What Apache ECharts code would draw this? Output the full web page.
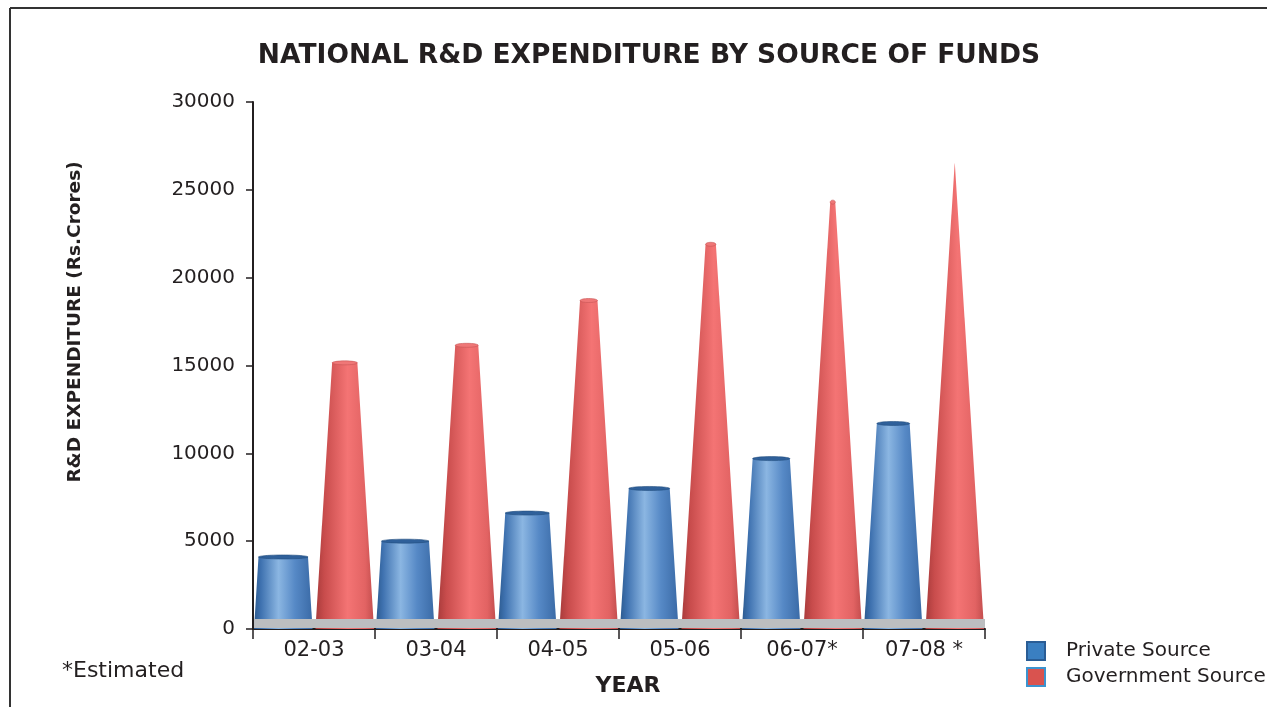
<!DOCTYPE html>
<html><head><meta charset="utf-8">
<script src="https://cdn.jsdelivr.net/npm/echarts@6/dist/echarts.min.js"></script>
<style>html,body{margin:0;padding:0;background:#fff}#c{width:1267px;height:707px}</style>
</head><body><div id="c"></div>
<script>
var categories = ['02-03', '03-04', '04-05', '05-06', '06-07*', '07-08 *'];
var privateSource = [4100, 5000, 6600, 8000, 9700, 11700];
var governmentSource = [15150, 16150, 18700, 21900, 24300, 26500];
var yTicks = [0, 5000, 10000, 15000, 20000, 25000, 30000];

var FONT = 'DejaVu Sans';
var APEX = 26600;

function makeRender(side, grad, topFill, topStroke) {
  return function (params, api) {
    var cat = api.value(0), val = api.value(1);
    var bw = api.size([1, 0])[0];
    var base = api.coord([cat, 0]);
    var top = api.coord([cat, val]);
    var apexY = api.coord([cat, APEX])[1];
    var cx = base[0] + side * bw * 0.252;
    var w0 = bw * 0.48;
    var frac = Math.max(0, (top[1] - apexY) / (base[1] - apexY));
    var wt = w0 * frac;
    var by = base[1], ty = top[1];
    var children = [{
      type: 'polygon',
      shape: { points: [[cx - w0 / 2, by], [cx - wt / 2, ty], [cx + wt / 2, ty], [cx + w0 / 2, by]] },
      style: { fill: { type: 'linear', x: 0, y: 0, x2: 1, y2: 0, colorStops: grad } }
    }];
    if (wt > 4) {
      children.push({
        type: 'ellipse',
        shape: { cx: cx, cy: ty, rx: wt / 2, ry: 2 },
        style: { fill: topFill, stroke: topStroke, lineWidth: 0.6 }
      });
    }
    return { type: 'group', children: children };
  };
}

var blueGrad = [
  { offset: 0, color: '#2c5a8f' }, { offset: 0.12, color: '#3f72b0' },
  { offset: 0.42, color: '#8bb6e2' }, { offset: 0.7, color: '#5689c6' },
  { offset: 1, color: '#3a6aa6' }
];
var redGrad = [
  { offset: 0, color: '#a83b3b' }, { offset: 0.15, color: '#c84c4c' },
  { offset: 0.55, color: '#f47474' }, { offset: 0.85, color: '#e26363' },
  { offset: 1, color: '#c24d4d' }
];

var chart = echarts.init(document.getElementById('c'), null, { renderer: 'canvas' });
chart.setOption({
  backgroundColor: '#fff',
  animation: false,
  title: {
    text: 'NATIONAL R&D EXPENDITURE BY SOURCE OF FUNDS',
    left: 644, top: 38, textAlign: 'center',
    textStyle: { fontFamily: FONT, fontWeight: 'bold', fontSize: 26.5, color: '#231f20' }
  },
  legend: {
    orient: 'vertical', left: 1021, top: 636,
    itemWidth: 18, itemHeight: 18, itemGap: 6, icon: 'rect',
    textStyle: { fontFamily: FONT, fontSize: 20, color: '#231f20', padding: [0, 0, 0, 16] },
    data: [
      { name: 'Private Source', itemStyle: { color: '#3a7fc1', borderColor: '#2a5d95', borderWidth: 2 } },
      { name: 'Government Source', itemStyle: { color: '#d9534f', borderColor: '#3b93cf', borderWidth: 2 } }
    ]
  },
  grid: { left: 253, right: 282, top: 102, bottom: 78 },
  xAxis: {
    type: 'category', data: categories, boundaryGap: true,
    axisLine: { lineStyle: { color: '#231f20', width: 2 } },
    axisTick: { show: true, length: 10, lineStyle: { color: '#231f20', width: 1.5 } },
    axisLabel: { fontFamily: FONT, fontSize: 21, color: '#231f20', margin: 11 }
  },
  yAxis: {
    type: 'value', min: 0, max: 30000, interval: 5000,
    axisLine: { show: true, lineStyle: { color: '#231f20', width: 2 } },
    axisTick: { show: true, length: 7, lineStyle: { color: '#231f20', width: 1.5 } },
    splitLine: { show: false },
    axisLabel: { fontFamily: FONT, fontSize: 20, color: '#231f20', margin: 18,
      formatter: function (v) { return yTicks.indexOf(v) >= 0 ? String(v) : ''; } }
  },
  series: [
    {
      name: 'Private Source', type: 'custom', itemStyle: { color: '#3a7fc1' },
      renderItem: makeRender(-1, blueGrad, '#2f609a', '#244f80'),
      data: privateSource.map(function (v, i) { return [i, v]; }),
      encode: { x: 0, y: 1 }, z: 2
    },
    {
      name: 'Government Source', type: 'custom', itemStyle: { color: '#d9534f' },
      renderItem: makeRender(1, redGrad, '#ef7777', '#c85555'),
      data: governmentSource.map(function (v, i) { return [i, v]; }),
      encode: { x: 0, y: 1 }, z: 2
    }
  ],
  graphic: [
    { type: 'rect', left: 254, top: 619, shape: { width: 731, height: 9 }, style: { fill: '#bcbec0' }, z: 10 },
    { type: 'line', shape: { x1: 10, y1: 8, x2: 1267, y2: 8 }, style: { stroke: '#333', lineWidth: 2 } },
    { type: 'line', shape: { x1: 10, y1: 8, x2: 10, y2: 707 }, style: { stroke: '#333', lineWidth: 2 } },
    { type: 'text', x: 75, y: 322, rotation: Math.PI / 2,
      style: { text: 'R&D EXPENDITURE (Rs.Crores)', fontFamily: FONT, fontWeight: 'bold', fontSize: 18.5,
        fill: '#231f20', textAlign: 'center', textVerticalAlign: 'middle' } },
    { type: 'text', x: 628, y: 686,
      style: { text: 'YEAR', fontFamily: FONT, fontWeight: 'bold', fontSize: 22,
        fill: '#231f20', textAlign: 'center', textVerticalAlign: 'middle' } },
    { type: 'text', x: 62, y: 671,
      style: { text: '*Estimated', fontFamily: FONT, fontSize: 22, fill: '#231f20', textVerticalAlign: 'middle' } }
  ]
});
</script></body></html>
